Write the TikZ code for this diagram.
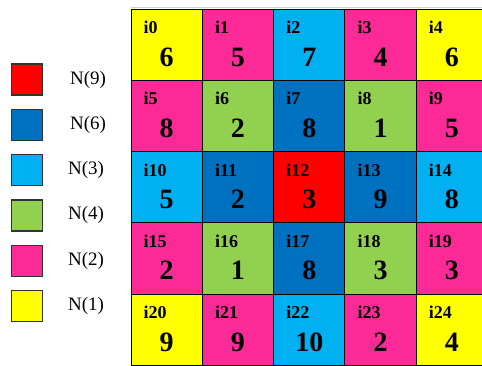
\documentclass[tikz,border=0pt]{standalone}
\usepackage{fontspec}
\setmainfont{Liberation Serif}
\usepackage{tikz}

\definecolor{n9}{RGB}{255,0,0}
\definecolor{n6}{RGB}{0,112,192}
\definecolor{n3}{RGB}{0,176,240}
\definecolor{n4}{RGB}{146,208,80}
\definecolor{n2}{RGB}{252,42,150}
\definecolor{n1}{RGB}{255,255,0}

\begin{document}
\begin{tikzpicture}[x=1pt, y=-1pt, node distance={71.3pt},
    cell/.style = {draw, line width=1pt, minimum size=71.3pt, inner sep=0pt,
        font=\bfseries\fontsize{28}{28}\selectfont, text height=42.7pt, text depth=0pt},
    idx/.style = {anchor=base west, inner sep=0pt, xshift=13pt, yshift=-25pt,
        font=\bfseries\fontsize{18}{18}\selectfont},
    key/.style = {draw=black!80, line width=1.2pt, minimum size=31pt, inner sep=0pt},
    keytext/.style = {inner sep=0pt, font=\fontsize{19}{19}\selectfont}]
            \useasboundingbox (0,0) rectangle (482,365);
            \clip (0,0) rectangle (482,365);

            \draw[gray!35, line width=0.8pt] (131,7) -- (482,7);

            % legend
            \node[key, fill=n9] (k9) at (27,79.5) {};
            \node[key, fill=n6, node distance=45.3pt, below of=k9] (k6) {};
            \node[key, fill=n3, node distance=45.3pt, below of=k6] (k3) {};
            \node[key, fill=n4, node distance=45.3pt, below of=k3] (k4) {};
            \node[key, fill=n2, node distance=45.3pt, below of=k4] (k2) {};
            \node[key, fill=n1, node distance=45.3pt, below of=k2] (k1) {};

            \node[keytext, node distance=43pt, right of=k9, anchor=west] (t9) {N(9)};
            \node[keytext, node distance=43pt, right of=k6, anchor=west] (t6) {N(6)};
            \node[keytext, node distance=41pt, right of=k3, anchor=west] (t3) {N(3)};
            \node[keytext, node distance=41pt, right of=k4, anchor=west] (t4) {N(4)};
            \node[keytext, node distance=41pt, right of=k2, anchor=west] (t2) {N(2)};
            \node[keytext, node distance=41pt, right of=k1, anchor=west] (t1) {N(1)};

            % grid, row by row
            \node[cell, fill=n1, label={[idx]north west:i0}] (i0) at (166.65,44.65) {6};
            \node[cell, fill=n2, label={[idx]north west:i1}] (i1) [right of=i0] {5};
            \node[cell, fill=n3, label={[idx]north west:i2}] (i2) [right of=i1] {7};
            \node[cell, fill=n2, label={[idx]north west:i3}] (i3) [right of=i2] {4};
            \node[cell, fill=n1, label={[idx]north west:i4}] (i4) [right of=i3] {6};

            \node[cell, fill=n2, label={[idx]north west:i5}] (i5) [below of=i0] {8};
            \node[cell, fill=n4, label={[idx]north west:i6}] (i6) [right of=i5] {2};
            \node[cell, fill=n6, label={[idx]north west:i7}] (i7) [right of=i6] {8};
            \node[cell, fill=n4, label={[idx]north west:i8}] (i8) [right of=i7] {1};
            \node[cell, fill=n2, label={[idx]north west:i9}] (i9) [right of=i8] {5};

            \node[cell, fill=n3, label={[idx]north west:i10}] (i10) [below of=i5] {5};
            \node[cell, fill=n6, label={[idx]north west:i11}] (i11) [right of=i10] {2};
            \node[cell, fill=n9, label={[idx]north west:i12}] (i12) [right of=i11] {3};
            \node[cell, fill=n6, label={[idx]north west:i13}] (i13) [right of=i12] {9};
            \node[cell, fill=n3, label={[idx]north west:i14}] (i14) [right of=i13] {8};

            \node[cell, fill=n2, label={[idx]north west:i15}] (i15) [below of=i10] {2};
            \node[cell, fill=n4, label={[idx]north west:i16}] (i16) [right of=i15] {1};
            \node[cell, fill=n6, label={[idx]north west:i17}] (i17) [right of=i16] {8};
            \node[cell, fill=n4, label={[idx]north west:i18}] (i18) [right of=i17] {3};
            \node[cell, fill=n2, label={[idx]north west:i19}] (i19) [right of=i18] {3};

            \node[cell, fill=n1, label={[idx]north west:i20}] (i20) [below of=i15] {9};
            \node[cell, fill=n2, label={[idx]north west:i21}] (i21) [right of=i20] {9};
            \node[cell, fill=n3, label={[idx]north west:i22}] (i22) [right of=i21] {10};
            \node[cell, fill=n2, label={[idx]north west:i23}] (i23) [right of=i22] {2};
            \node[cell, fill=n1, label={[idx]north west:i24}] (i24) [right of=i23] {4};
        \end{tikzpicture}
\end{document}
